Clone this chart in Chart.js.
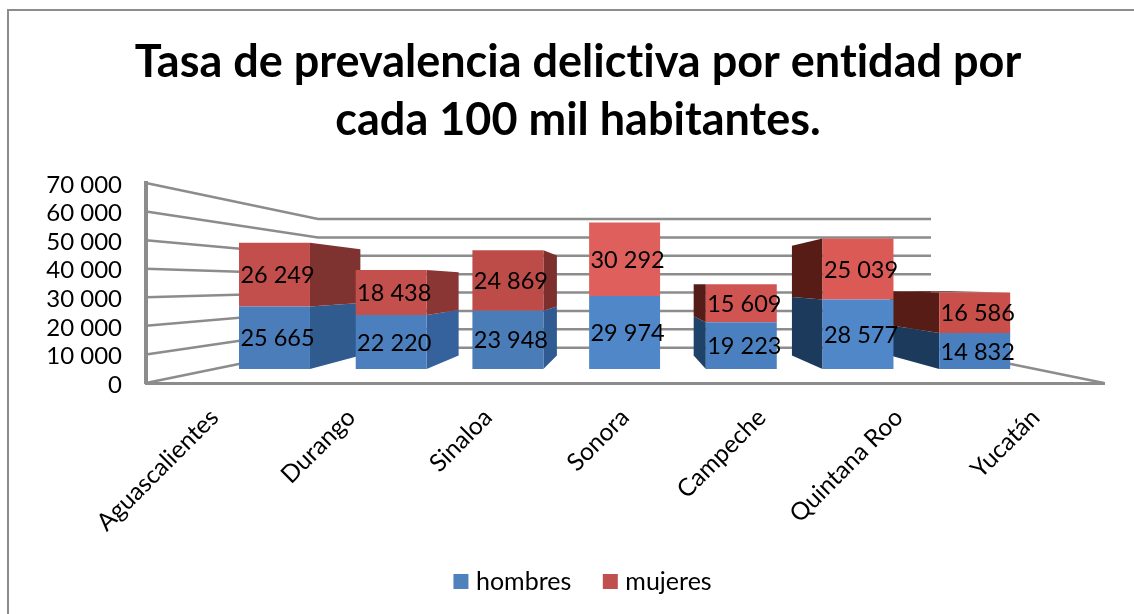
<!DOCTYPE html>
<html>

<head>
	<meta charset="utf-8">
	<title>Tasa de prevalencia delictiva</title>
	<style>
		html, body { margin: 0; padding: 0; background: #fff; overflow: hidden; }
		canvas { display: block; }
	</style>
</head>

<body>
	<script src="https://cdn.jsdelivr.net/npm/chart.js"></script>
	<canvas id="myChart" width="1134" height="614"></canvas>

	<script>
    const categories = ['Aguascalientes', 'Durango', 'Sinaloa', 'Sonora', 'Campeche', 'Quintana Roo', 'Yucatán'];
    const hombres = [25665, 22220, 23948, 29974, 19223, 28577, 14832];
    const mujeres = [26249, 18438, 24869, 30292, 15609, 25039, 16586];
    const titleLines = ['Tasa de prevalencia delictiva por entidad por', 'cada 100 mil habitantes.'];

    // the picture is lit unevenly, so each bar has its own shade
    const frontBlue = ['#4a7dba', '#4b7fbd', '#4a7cb8', '#4f87c8', '#4b80c0', '#4f87c9', '#4a7fbf'];
    const frontRed = ['#c24f4c', '#c3504d', '#bd4c49', '#de5f5b', '#d05451', '#dc5a56', '#c94f4b'];
    const sideBlue = ['#2f5b8e', '#35629c', '#2f5b92', '#2f5b92', '#1f4268', '#1c3a5c', '#1c3a5c'];
    const sideRed = ['#7f3331', '#8a3634', '#7c2f2d', '#7c2f2d', '#551d18', '#571c16', '#571c16'];

    const GRID = '#8c8c8c';
    const FONT = 'Lato';
    const VIEW = { x: 629, y: 284 };   // where the depth lines meet
    const DEPTH = 0.158;               // how far a bar runs back towards that point
    const WALL_L = 318, WALL_R = 931;

    function spaced(v) {
      return String(v).replace(/\B(?=(\d{3})+$)/g, ' ');
    }

    function poly(ctx, pts, fill) {
      ctx.beginPath();
      pts.forEach((p, i) => i ? ctx.lineTo(p[0], p[1]) : ctx.moveTo(p[0], p[1]));
      ctx.closePath();
      ctx.fillStyle = fill;
      ctx.fill();
    }

    function back(p) {
      return [p[0] + (VIEW.x - p[0]) * DEPTH, p[1] + (VIEW.y - p[1]) * DEPTH];
    }

    const scene = {
      id: 'scene',
      afterLayout(chart) {
        // the legend sits a little right of the title's centre
        chart.legend.left += 7;
        chart.legend.right += 7;
      },
      beforeDraw(chart) {
        const ctx = chart.ctx;
        ctx.letterSpacing = '0.01px';   // stops Lato joining "ti" in the title
        ctx.save();
        ctx.strokeStyle = GRID;
        ctx.lineWidth = 2;
        ctx.beginPath();
        ctx.moveTo(1134, 10);
        ctx.lineTo(8, 10);
        ctx.lineTo(8, 614);
        ctx.stroke();
        ctx.restore();
      },
      beforeDatasetsDraw(chart) {
        const ctx = chart.ctx;
        const y = chart.scales.y, yBack = chart.scales.yBack, area = chart.chartArea;
        ctx.save();
        ctx.strokeStyle = GRID;
        ctx.lineWidth = 2.5;
        y.ticks.forEach(t => {
          const y0 = y.getPixelForValue(t.value), y1 = yBack.getPixelForValue(t.value);
          ctx.beginPath();
          ctx.moveTo(area.left, y0);
          ctx.lineTo(WALL_L, y1);
          ctx.lineTo(WALL_R, y1);
          if (t.value === 0) ctx.lineTo(area.right, y0);
          ctx.stroke();
        });

        // side and top faces of the bars, same geometry as the fronts
        const m0 = chart.getDatasetMeta(0).data, m1 = chart.getDatasetMeta(1).data;
        categories.forEach((c, i) => {
          const half = m0[i].width / 2;
          const left = m0[i].x - half, right = m0[i].x + half;
          if (!(left < VIEW.x && right > VIEW.x)) {
            const sx = right < VIEW.x ? right : left;
            const base = m0[i].base, mid = m0[i].y, top = m1[i].y;
            poly(ctx, [[sx, base], [sx, mid], back([sx, mid]), back([sx, base])], sideBlue[i]);
            poly(ctx, [[sx, mid], [sx, top], back([sx, top]), back([sx, mid])], sideRed[i]);
          }
          if (m1[i].y > VIEW.y) {
            const top = m1[i].y;
            poly(ctx, [[left, top], [right, top], back([right, top]), back([left, top])], sideRed[i]);
          }
        });
        ctx.restore();
      },
      afterDatasetsDraw(chart) {
        const ctx = chart.ctx;
        ctx.save();
        ctx.font = '23.5px ' + FONT;
        ctx.fillStyle = '#000';
        ctx.textAlign = 'center';
        ctx.textBaseline = 'middle';
        chart.data.datasets.forEach((ds, d) => {
          chart.getDatasetMeta(d).data.forEach((bar, i) => {
            ctx.fillText(spaced(ds.data[i].y), bar.x + 3, (bar.y + bar.base) / 2 + 1);
          });
        });
        ctx.restore();
      }
    };

    const ctx = document.getElementById('myChart').getContext('2d');
    new Chart(ctx, {
      type: 'bar',
      plugins: [scene],
      data: {
        labels: categories,
        datasets: [
          {
            label: 'hombres', data: hombres.map((v, i) => ({ x: i, y: v })),
            backgroundColor: frontBlue, xAxisID: 'xBars', yAxisID: 'yBars', stack: 's'
          },
          {
            label: 'mujeres', data: mujeres.map((v, i) => ({ x: i, y: v })),
            backgroundColor: frontRed, xAxisID: 'xBars', yAxisID: 'yBars', stack: 's'
          }
        ]
      },
      options: {
        responsive: false,
        animation: false,
        layout: { padding: { left: 30, right: 8, top: 0, bottom: 10 } },
        barPercentage: 0.608,
        categoryPercentage: 1,
        plugins: {
          tooltip: { enabled: false },
          title: {
            display: true,
            text: titleLines,
            color: '#000',
            font: { family: FONT, size: 45, weight: 'bold', lineHeight: 1.289 },
            padding: { top: 33, bottom: 34 }
          },
          legend: {
            position: 'bottom',
            labels: {
              color: '#000',
              font: { family: FONT, size: 25 },
              usePointStyle: true, boxWidth: 5, boxHeight: 15, padding: 36.5,
              generateLabels(chart) {
                return chart.data.datasets.map((ds, i) => ({
                  text: ds.label, fillStyle: i ? '#c0504d' : '#4f81bd', strokeStyle: 'transparent',
                  lineWidth: 0, datasetIndex: i, fontColor: '#000', pointStyle: 'rect'
                }));
              }
            }
          }
        },
        scales: {
          x: {
            type: 'category',
            offset: true,
            grid: { display: false, drawTicks: false },
            border: { color: GRID, width: 3 },
            ticks: {
              color: '#000', font: { family: FONT, size: 24.5 },
              minRotation: 45, maxRotation: 45, autoSkip: false, padding: 20
            },
            afterFit(s) { s.height = 149.5; }
          },
          y: {
            min: 0, max: 70000,
            grid: { display: false, drawTicks: false },
            border: { color: GRID, width: 4 },
            ticks: {
              stepSize: 10000, autoSkip: false, color: '#000', font: { family: FONT, size: 24 }, padding: 24,
              labelOffset: 2,
              callback: v => spaced(v)
            },
            afterFit(s) { s.width = 116; }
          },
          // empty axis, keeps the plot's right edge in place while the title stays centred
          yPad: {
            type: 'linear', position: 'right', min: 0, max: 1,
            grid: { display: false, drawTicks: false },
            border: { display: false },
            ticks: { display: false },
            afterFit(s) { s.width = 22; }
          },
          // the bars stand further back than the axes, so they read on their own smaller scales
          xBars: { type: 'linear', display: false, offset: false, min: -1.101, max: 7.108 },
          yBars: { type: 'linear', display: false, stacked: true, min: -5754, max: 76450 },
          yBack: { type: 'linear', display: false, min: -19199, max: 89578 }
        }
      }
    });
	</script>
</body>

</html>
